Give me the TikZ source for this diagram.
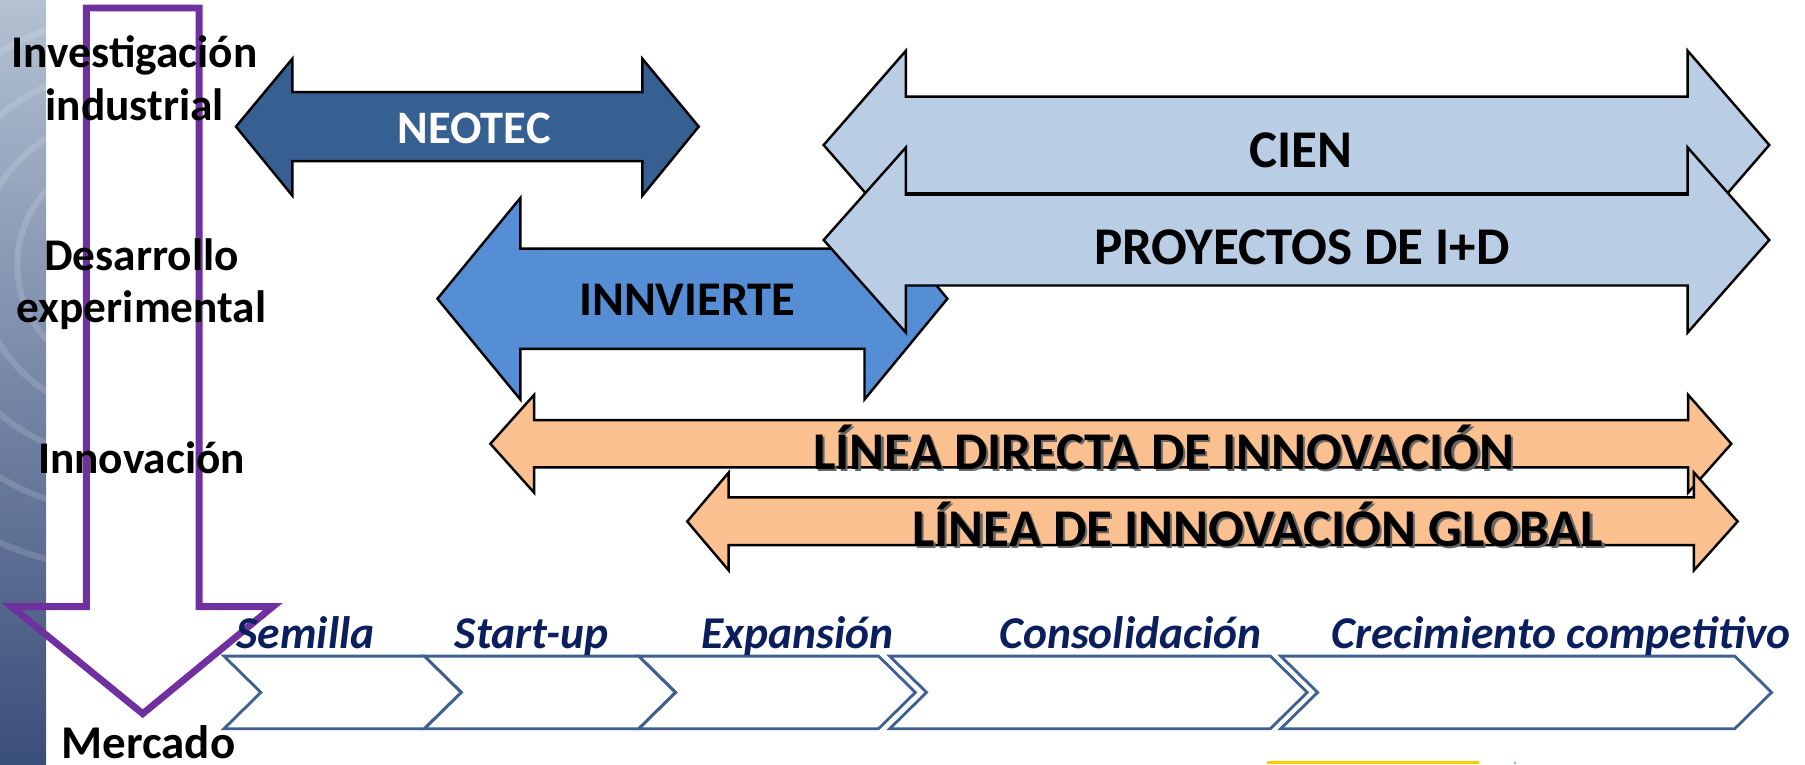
\documentclass[tikz,border=0pt]{standalone}
\usepackage{fontspec}
\setmainfont{Carlito}

\definecolor{neotecblue}{HTML}{376092}
\definecolor{innvblue}{HTML}{558ED5}
\definecolor{cienblue}{HTML}{B9CDE5}
\definecolor{lineorange}{HTML}{FAC090}
\definecolor{marketpurple}{HTML}{7030A0}
\definecolor{stageblue}{HTML}{3F6191}
\definecolor{stagetext}{HTML}{0B1F5E}
\definecolor{striptop}{HTML}{B4C1D3}
\definecolor{stripmid}{HTML}{8A9EBC}
\definecolor{stripbot}{HTML}{3A4E7A}
\definecolor{cutyellow}{HTML}{FFCC00}
\definecolor{cutblue}{HTML}{78B4DC}

% Double arrows, written as plain paths (picture units are pixels)
\def\neotec{(205,110) -- (254,51) -- (254,80) -- (558,80) -- (558,51) -- (607,110)
  -- (558,170) -- (558,140) -- (254,140) -- (254,170) -- cycle}
\def\innvierte{(380,259.5) -- (452,172) -- (452,216) -- (751,216) -- (751,172) -- (823,259.5)
  -- (751,347) -- (751,303) -- (452,303) -- (452,347) -- cycle}
\def\cien{(715.5,126) -- (787,44) -- (787,84) -- (1466,84) -- (1466,44) -- (1537,126)
  -- (1466,208) -- (1466,168) -- (787,168) -- (787,208) -- cycle}
\def\proyectos{(715.5,208.5) -- (787,128) -- (787,169) -- (1466,169) -- (1466,128) -- (1537,208.5)
  -- (1466,289) -- (1466,248) -- (787,248) -- (787,289) -- cycle}
\def\lineadirecta{(426,385.5) -- (464,343) -- (464,365) -- (1466.5,365) -- (1466.5,343) -- (1504,385.5)
  -- (1466.5,428) -- (1466.5,406) -- (464,406) -- (464,428) -- cycle}
\def\lineaglobal{(597,453) -- (633,410.5) -- (633,432) -- (1471.5,432) -- (1471.5,410.5) -- (1509.5,453)
  -- (1471.5,495.5) -- (1471.5,473.5) -- (633,473.5) -- (633,495.5) -- cycle}
% The big arrow down to the market
\def\mercado{(75,7) -- (173,7) -- (173,527) -- (237,527) -- (124,620) -- (10,527) -- (75,527) -- cycle}
% One stage of the company, from x=#1 to x=#2
\newcommand\stagebox[2]{(#1,570) -- (#2,570) -- ({#2+32},601.5) -- (#2,633) -- (#1,633) -- ({#1+32},601.5) -- cycle}

\begin{document}
\begin{tikzpicture}[x=0.01cm,y=-0.01cm,
    arrowbox/.style={draw=black,line width=0.6pt,line join=miter},
    stage/.style={draw=stageblue,line width=0.7pt},
    level/.style={inner sep=0pt,align=center,font=\fontsize{11.2}{12.9}\selectfont\bfseries},
    boxtext/.style={inner sep=0pt,anchor=base,font=\fontsize{13.1}{15}\selectfont\bfseries},
    stagename/.style={inner sep=0pt,anchor=base,text=stagetext,
      font=\fontsize{11.25}{13}\selectfont\bfseries\itshape}]
    \useasboundingbox (0,0) rectangle (1568,664);
    % textured strip on the left edge
    \shade[top color=striptop,middle color=stripmid,bottom color=stripbot] (0,0) rectangle (40,664);
    \begin{scope}
        % faint ripples, cut to the strip
        \clip (0,0) rectangle (40,664);
        \foreach \r in {60,95,130,170,215,265}
            \draw[white,opacity=0.14,line width=1.5pt] (110,230) circle (\r);
    \end{scope}
    % Arrow from research to the market
    \draw[marketpurple,line width=1.7pt,line join=miter] \mercado;
    \node[level] (invest) at (117,68) {Investigación\\industrial};
    \node[level] (desarr) at (123,247) {Desarrollo\\experimental};
    \node[level,anchor=base] (innov) at (123,411) {Innovación};
    \node[level,anchor=base,font=\fontsize{11.6}{13}\selectfont\bfseries] (market) at (129,659) {Mercado};
    % The programmes; later ones lie over earlier ones
    \filldraw[arrowbox,fill=neotecblue] \neotec;
    \filldraw[arrowbox,fill=innvblue] \innvierte;
    \filldraw[arrowbox,fill=cienblue] \cien;
    \filldraw[arrowbox,fill=cienblue] \proyectos;
    \filldraw[arrowbox,fill=lineorange] \lineadirecta;
    \filldraw[arrowbox,fill=lineorange] \lineaglobal;
    \node[boxtext,text=white,font=\fontsize{11.5}{13}\selectfont\bfseries] (neo) at (412,125) {NEOTEC};
    \node[boxtext,font=\fontsize{11.95}{14}\selectfont\bfseries] (innv) at (597,273.7) {INNVIERTE};
    \node[boxtext] (cientxt) at (1130,145.6) {CIEN};
    \node[boxtext] (proy) at (1131,230.2) {PROYECTOS DE I+D};
    % shadowed text on the orange lines
    \node[boxtext,text=black!60] (dirshadow) at (1013,409.6) {LÍNEA DIRECTA DE INNOVACIÓN};
    \node[boxtext] (dir) at (1011,407.6) {LÍNEA DIRECTA DE INNOVACIÓN};
    \node[boxtext,text=black!60] (globshadow) at (1094.6,476.9) {LÍNEA DE INNOVACIÓN GLOBAL};
    \node[boxtext] (glob) at (1092.6,474.9) {LÍNEA DE INNOVACIÓN GLOBAL};
    % Stages of the company
    \draw[stage] \stagebox{194.6}{368.7};
    \draw[stage] \stagebox{368.7}{554.9};
    \draw[stage] \stagebox{554.9}{763.2};
    \draw[stage] \stagebox{772.9}{1103.6};
    \draw[stage] \stagebox{1112.6}{1507};
    \node[stagename] (semilla) at (265.5,563) {Semilla};
    \node[stagename] (startup) at (461.7,563) {Start-up};
    \node[stagename] (expansion) at (693,563) {Expansión};
    \node[stagename] (consol) at (982,563) {Consolidación};
    \node[stagename] (crec) at (1356,563) {Crecimiento competitivo};
    % bits cut off at the bottom edge
    \fill[cutyellow] (1101,661.5) rectangle (1285,664);
    \fill[cutblue] (1315,662) rectangle (1317,664);
\end{tikzpicture}
\end{document}
